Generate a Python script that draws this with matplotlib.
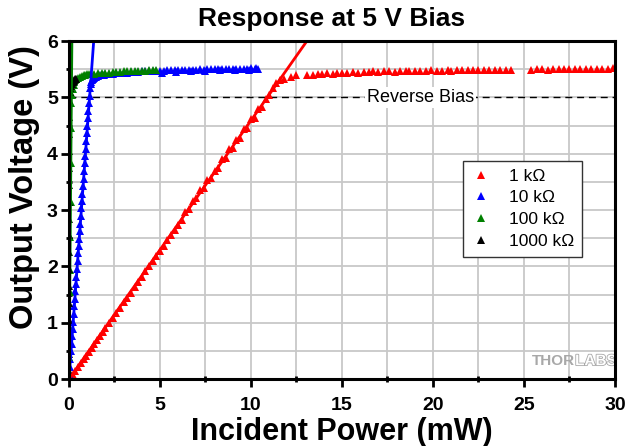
import matplotlib
matplotlib.use("Agg")
import matplotlib.pyplot as plt
from matplotlib.ticker import MultipleLocator
from matplotlib.lines import Line2D
import matplotlib.patheffects as pe

plt.rcParams['font.family'] = ['Liberation Sans', 'DejaVu Sans']

# ---------------- data ----------------
series_labels = ["1 k\u03a9", "10 k\u03a9", "100 k\u03a9", "1000 k\u03a9"]
series_colors = ["#ff0000", "#0000ff", "#008000", "#000000"]
fit_slopes = [0.459, 4.42, 38.0, 450.0]   # V per mW of each linear fit

red_x = [0.05, 0.2, 0.35, 0.5, 0.65, 0.8, 0.95, 1.1, 1.25, 1.4, 1.55, 1.7, 1.85, 2.0,
         2.2, 2.4, 2.6, 2.8, 3.0, 3.2, 3.4, 3.6, 3.8, 4.0, 4.2, 4.4, 4.6, 4.8, 5.0,
         5.2, 5.4, 5.6, 5.8, 6.0, 6.2, 6.4, 6.6, 6.8, 7.0, 7.2, 7.4, 7.6, 7.8, 8.0,
         8.2, 8.4, 8.6, 8.8, 9.0, 9.2, 9.4, 9.6, 9.8, 10.0, 10.2, 10.4, 10.6, 10.8,
         11.0, 11.2, 11.4, 11.6, 11.8,
         12.2, 12.5, 13.1, 13.4, 13.7, 13.9, 14.2, 14.5, 14.7, 15.0, 15.3, 15.6, 15.9,
         16.2, 16.5, 16.7, 17.0, 17.3, 17.6, 17.9, 18.2, 18.5, 18.7, 19.0, 19.3, 19.6,
         19.9, 20.2, 20.5, 20.8, 21.0, 21.3, 21.6, 21.9, 22.2, 22.5, 22.8, 23.1, 23.4,
         23.7, 24.0, 24.3, 25.4, 25.7, 26.0, 26.3, 26.6, 26.9, 27.2, 27.5, 27.8, 28.1,
         28.4, 28.7, 29.0, 29.3, 29.6, 29.9]
red_v = [0.02, 0.07, 0.14, 0.21, 0.28, 0.35, 0.41, 0.48, 0.55, 0.62, 0.69, 0.76, 0.83, 0.90,
         0.99, 1.08, 1.17, 1.26, 1.36, 1.44, 1.53, 1.63, 1.72, 1.81, 1.91, 2.00, 2.09, 2.19, 2.28,
         2.36, 2.46, 2.56, 2.64, 2.74, 2.83, 2.96, 3.02, 3.16, 3.22, 3.36, 3.40, 3.53, 3.57, 3.70,
         3.74, 3.90, 3.93, 4.08, 4.11, 4.25, 4.28, 4.43, 4.46, 4.62, 4.64, 4.80, 4.83, 4.98,
         5.05, 5.16, 5.25, 5.30, 5.33,
         5.37, 5.40, 5.39, 5.40, 5.42, 5.41, 5.43, 5.42, 5.44, 5.43, 5.44, 5.45, 5.44,
         5.45, 5.45, 5.46, 5.45, 5.46, 5.46, 5.45, 5.47, 5.46, 5.47, 5.47, 5.46, 5.47,
         5.48, 5.47, 5.47, 5.48, 5.47, 5.48, 5.48, 5.49, 5.48, 5.48, 5.49, 5.48, 5.49,
         5.49, 5.49, 5.49, 5.49, 5.50, 5.50, 5.49, 5.50, 5.50, 5.50, 5.51, 5.50, 5.50,
         5.51, 5.50, 5.51, 5.51, 5.51, 5.52]

blue_x = [0.02, 0.05, 0.08, 0.11, 0.14, 0.17, 0.20, 0.23, 0.26, 0.29, 0.32, 0.35, 0.38,
          0.41, 0.44, 0.47, 0.50, 0.53, 0.56, 0.59, 0.62, 0.65, 0.68, 0.71, 0.74, 0.77,
          0.80, 0.83, 0.86, 0.89, 0.92, 0.95, 0.98, 1.01, 1.04, 1.07, 1.10, 1.13, 1.16,
          1.19, 1.22, 1.26, 1.3, 1.4, 1.5, 1.6, 1.7, 1.8, 1.9, 2.0, 2.2, 2.4, 2.6, 2.8,
          3.0, 3.2, 3.4, 3.6, 3.8, 4.0, 4.2, 4.4, 4.6, 4.8, 5.0, 5.2, 5.4, 5.6, 5.8, 6.0,
          6.2, 6.4, 6.6, 6.8, 7.0, 7.2, 7.4, 7.6, 7.8, 8.0, 8.2, 8.4, 8.6, 8.8, 9.0, 9.2,
          9.4, 9.6, 9.8, 10.0, 10.2, 10.4,
          5.1, 5.9, 6.7, 7.5, 8.3, 9.1, 9.9, 10.3]
blue_v = [0.09, 0.22, 0.36, 0.49, 0.62, 0.76, 0.89, 1.02, 1.16, 1.29, 1.42, 1.56, 1.69,
          1.82, 1.96, 2.09, 2.23, 2.36, 2.49, 2.63, 2.76, 2.89, 3.03, 3.16, 3.29, 3.43,
          3.56, 3.69, 3.83, 3.96, 4.09, 4.23, 4.36, 4.49, 4.63, 4.76, 4.90, 5.03, 5.16,
          5.24, 5.28, 5.31, 5.33, 5.35, 5.37, 5.38, 5.39, 5.40, 5.40, 5.41, 5.42, 5.42, 5.43, 5.43,
          5.44, 5.44, 5.45, 5.45, 5.45, 5.46, 5.46, 5.46, 5.47, 5.47, 5.47, 5.47, 5.48, 5.48, 5.48, 5.48,
          5.49, 5.48, 5.49, 5.49, 5.49, 5.50, 5.49, 5.50, 5.50, 5.50, 5.50, 5.51, 5.50, 5.51, 5.51, 5.50,
          5.51, 5.51, 5.51, 5.52, 5.50, 5.51,
          5.44, 5.45, 5.46, 5.47, 5.48, 5.48, 5.49, 5.53]

green_x = [0.011, 0.025, 0.041, 0.051, 0.067, 0.083, 0.101, 0.117, 0.129,
           0.15, 0.2, 0.25, 0.3, 0.35, 0.4, 0.5, 0.6, 0.7, 0.8, 0.9, 1.0, 1.1, 1.2, 1.4,
           1.6, 1.8, 2.0, 2.2, 2.4, 2.6, 2.8, 3.0, 3.2, 3.4, 3.6, 3.8, 4.0, 4.2, 4.4,
           4.6, 4.8]
green_v = [0.40, 0.95, 1.55, 1.94, 2.53, 3.15, 3.83, 4.46, 4.90,
           5.05, 5.15, 5.22, 5.27, 5.30, 5.32, 5.35, 5.37, 5.38, 5.39, 5.40, 5.41, 5.41, 5.42, 5.42,
           5.43, 5.43, 5.44, 5.44, 5.45, 5.45, 5.45, 5.46, 5.46, 5.46, 5.47, 5.47, 5.47, 5.47, 5.48,
           5.48, 5.48]

black_x = [0.004, 0.006, 0.007, 0.008, 0.009, 0.010, 0.011, 0.012, 0.013, 0.014, 0.015,
           0.016, 0.017, 0.018, 0.019, 0.020, 0.021,
           0.03, 0.06, 0.1, 0.15, 0.2, 0.25, 0.3, 0.35, 0.4]
black_v = [0.15, 0.45, 0.75, 1.05, 1.35, 1.65, 1.95, 2.25, 2.55, 2.85, 3.15,
           3.45, 3.75, 4.05, 4.35, 4.65, 4.95,
           5.10, 5.16, 5.20, 5.24, 5.27, 5.29, 5.31, 5.32, 5.33]

bias_level = 5.0
x_ticks = [0, 5, 10, 15, 20, 25, 30]
y_ticks = [0, 1, 2, 3, 4, 5, 6]

# ---------------- figure ----------------
fig = plt.figure(figsize=(6.29, 4.46), dpi=100)
ax = fig.add_axes([0.1097, 0.150, 0.868, 0.758])

ax.set_xlim(0, 30)
ax.set_ylim(0, 6)
ax.set_xticks(x_ticks)
ax.set_yticks(y_ticks)
ax.xaxis.set_minor_locator(MultipleLocator(2.5))
ax.yaxis.set_minor_locator(MultipleLocator(0.5))
ax.grid(True, which='both', color='#c8c8c8', linewidth=1.3, zorder=0)
ax.set_axisbelow(True)

ax.axhline(bias_level, color='black', linestyle=(0, (5, 3.5)), linewidth=1.0, zorder=1)
ax.text(19.3, bias_level, "Reverse Bias", fontsize=13, ha='center', va='center',
        bbox=dict(facecolor='white', edgecolor='none', pad=1.5), zorder=2)

series = [(red_x, red_v), (blue_x, blue_v), (green_x, green_v), (black_x, black_v)]
for (xs, vs), col in zip(series, series_colors):
    ax.plot(xs, vs, linestyle='none', marker='^', markersize=5.6, color=col,
            markeredgewidth=0, zorder=3, clip_on=True)

for s, col in zip(fit_slopes, series_colors):
    ax.plot([0, 6.0 / s], [0, 6.0], color=col, linewidth=2.0, zorder=4)

for sp in ax.spines.values():
    sp.set_linewidth(2.2)
    sp.set_zorder(6)

ax.tick_params(axis='x', which='major', direction='out', length=6, width=2,
               labelsize=14, pad=7)
ax.tick_params(axis='y', which='major', direction='out', length=6, width=2,
               labelsize=14, pad=2)
ax.tick_params(axis='both', which='minor', direction='inout', length=5, width=2)
for lab in ax.get_xticklabels() + ax.get_yticklabels():
    lab.set_fontweight('bold')

ax.set_title("Response at 5 V Bias", fontsize=19, fontweight='bold', pad=11, x=0.481)
ax.set_xlabel("Incident Power (mW)", fontsize=22, fontweight='bold', labelpad=2)
ax.set_ylabel("Output Voltage (V)", fontsize=23.5, fontweight='bold')
ax.yaxis.set_label_coords(-0.053, 0.567)

handles = [Line2D([], [], linestyle='none', marker='^', markersize=5.5, color=c,
                  markeredgewidth=0) for c in series_colors]
leg = ax.legend(handles, series_labels, loc='upper left', bbox_to_anchor=(0.721, 0.646),
                borderaxespad=0, fontsize=12.5, frameon=True, fancybox=False,
                edgecolor='#333333', framealpha=1, handlelength=1.2, handletextpad=1.0,
                labelspacing=0.38, borderpad=0.45)
leg.get_frame().set_linewidth(1.0)
leg.set_zorder(7)

# watermark
ax.text(0.927, 0.053, "LABS", transform=ax.transAxes, fontsize=11, fontweight='bold',
        ha='left', va='center', color='white',
        path_effects=[pe.withStroke(linewidth=1.2, foreground='#a8a8a8')], zorder=2)
ax.text(0.927, 0.053, "THOR", transform=ax.transAxes, fontsize=11, fontweight='bold',
        ha='right', va='center', color='#a8a8a8', zorder=2)

fig.savefig("out.png", dpi=100)
